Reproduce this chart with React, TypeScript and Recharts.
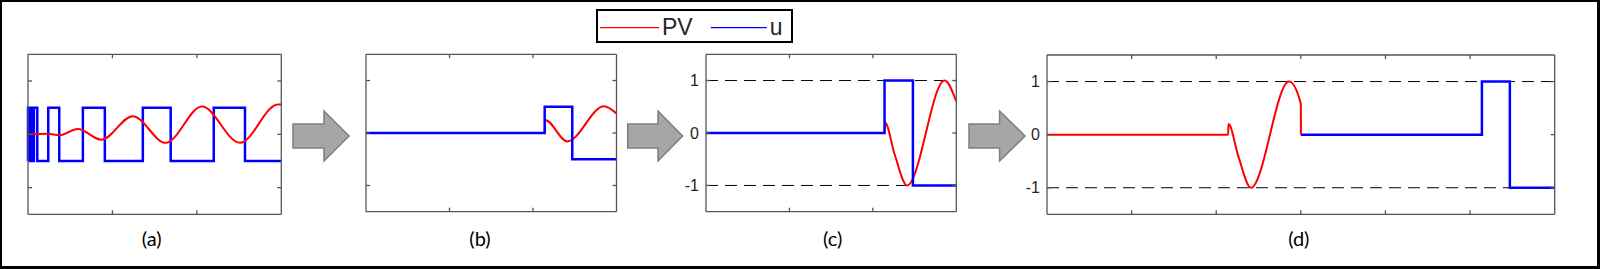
import React from "react";
import { Line, LineChart, ReferenceLine, XAxis, YAxis } from "recharts";

type Pt = [number, number];

// (a) relay excitation, u = ±0.5, PV slowly building up
const uA: Pt[] = [
  [0, -0.5], [0, 0.5], [0.02, -0.5], [0.04, 0.5], [0.06, -0.5], [0.07, 0.5],
  [0.11, -0.5], [0.24, 0.5], [0.37, -0.5], [0.65, 0.5], [0.91, -0.5],
  [1.36, 0.5], [1.69, -0.5], [2.2, 0.5], [2.57, -0.5], [3, -0.5],
];
const pvA: Pt[] = [
  [0, 0], [0.24, 0.01], [0.37, -0.02], [0.59, 0.1], [0.87, -0.1], [1.24, 0.34],
  [1.63, -0.16], [2.06, 0.52], [2.51, -0.16], [2.96, 0.56], [3, 0.56],
];

// (b) single pulse
const uB: Pt[] = [[0, 0], [2.14, 0.5], [2.47, -0.5], [3, -0.5]];
const pvB: Pt[] = [[0, 0], [2.14, 0], [2.145, 0.25], [2.41, -0.16], [2.85, 0.51], [3, 0.37]];

// (c) scaled pulse
const uC: Pt[] = [[0, 0], [2.14, 1], [2.48, -1], [3, -1]];
const pvC: Pt[] = [[0, 0], [2.14, 0], [2.145, 0.2], [2.26, -0.4], [2.41, -1], [2.86, 1], [3, 0.6]];

// (d) PV window followed by u window
const pvD: Pt[] = [[0, 0], [2.14, 0], [2.145, 0.2], [2.26, -0.4], [2.41, -1], [2.86, 1], [3, 0.58], [3.001, 0]];
const uD: Pt[] = [[3, 0], [5.14, 1], [5.47, -1], [6, -1]];

const yTicks = [-1, 0, 1];
const legendItems = [
  { name: "PV", color: "#ff0000" },
  { name: "u", color: "#0000ff" },
];

const RED = "#ff0000";
const BLUE = "#0000ff";
const AXIS = "#555555";

const rows = (pts: Pt[]) => pts.map(([t, v]) => ({ t, v }));
const noLabel = () => <g />;

interface PanelCfg {
  left: number;
  right: number;
  top: number;
  bottom: number;
  tMax: number;
  xTicks: number[];
  labels: boolean;
  redOnTop: boolean;
  pv: Pt[];
  u: Pt[];
  caption: string;
  capX: number;
}

const panels: PanelCfg[] = [
  { left: 27.7, right: 281, top: 54.3, bottom: 214.3, tMax: 3, xTicks: [1, 2], labels: false, redOnTop: true, pv: pvA, u: uA, caption: "(a)", capX: 151.7 },
  { left: 365.5, right: 616, top: 54.3, bottom: 211.7, tMax: 3, xTicks: [1, 2], labels: false, redOnTop: false, pv: pvB, u: uB, caption: "(b)", capX: 480 },
  { left: 705.7, right: 956, top: 54.3, bottom: 211.7, tMax: 3, xTicks: [1, 2], labels: true, redOnTop: false, pv: pvC, u: uC, caption: "(c)", capX: 832.7 },
  { left: 1047, right: 1554.7, top: 55, bottom: 214.3, tMax: 6, xTicks: [1, 2, 3, 4, 5], labels: true, redOnTop: true, pv: pvD, u: uD, caption: "(d)", capX: 1298.8 },
];

function Panel({ p }: { p: PanelCfg }) {
  const w = p.right - p.left + 50;
  const red = (
    <Line key="pv" data={rows(p.pv)} dataKey="v" xAxisId="b" yAxisId="l" type="monotone"
      stroke={RED} strokeWidth={2} dot={false} activeDot={false} isAnimationActive={false} />
  );
  const blue = (
    <Line key="u" data={rows(p.u)} dataKey="v" xAxisId="b" yAxisId="l" type="stepAfter"
      stroke={BLUE} strokeWidth={2.5} dot={false} activeDot={false} isAnimationActive={false} />
  );
  const box = { stroke: AXIS, strokeWidth: 1.3 };
  return (
    <div style={{ position: "absolute", left: p.left - 40, top: 0 }}>
      <LineChart
        width={w}
        height={269}
        margin={{ top: p.top, bottom: 269 - p.bottom, left: p.labels ? 10 : 40, right: 10 }}
      >
        <XAxis xAxisId="b" dataKey="t" type="number" orientation="bottom" mirror height={1} interval={0}
          domain={[0, p.tMax]} ticks={p.xTicks} tick={noLabel} tickSize={4} axisLine={box} tickLine={box} />
        <XAxis xAxisId="t" dataKey="t" type="number" orientation="top" mirror height={1} allowDataOverflow interval={0}
          domain={[0, p.tMax]} ticks={p.xTicks} tick={noLabel} tickSize={4} axisLine={box} tickLine={box} />
        <YAxis yAxisId="l" type="number" orientation="left" mirror width={1} interval={0}
          domain={[-1.5, 1.5]} ticks={yTicks} tick={noLabel} tickSize={4} axisLine={box} tickLine={box} />
        <YAxis yAxisId="r" type="number" orientation="right" mirror width={1} allowDataOverflow interval={0}
          domain={[-1.5, 1.5]} ticks={yTicks} tick={noLabel} tickSize={4} axisLine={box} tickLine={box} />
        {p.labels && (
          <YAxis yAxisId="lab" type="number" orientation="left" width={30} allowDataOverflow interval={0}
            domain={[-1.5, 1.5]} ticks={yTicks} tickSize={0} tickMargin={7} axisLine={false} tickLine={false}
            tick={{ fill: "#262626", fontSize: 16, fontFamily: "Liberation Sans, Arial, sans-serif" }} />
        )}
        {p.labels &&
          [-1, 1].map((y) => (
            <ReferenceLine key={y} xAxisId="b" yAxisId="l" y={y} stroke="#000" strokeWidth={1} strokeDasharray="12 7" />
          ))}
        {p.redOnTop ? [blue, red] : [red, blue]}
      </LineChart>
    </div>
  );
}

const arrows = [
  [293, 324, 349],
  [627.7, 658, 682.7],
  [969, 999.6, 1025],
];

export default function App() {
  return (
    <div style={{ position: "absolute", left: 0, top: 0, width: 1600, height: 269, background: "#fff", overflow: "hidden" }}>
      {panels.map((p) => (
        <Panel key={p.caption} p={p} />
      ))}
      <svg width={1600} height={269} style={{ position: "absolute", left: 0, top: 0, pointerEvents: "none" }}>
        {arrows.map(([x0, xh, xt], i) => (
          <polygon key={i}
            points={`${x0},124 ${xh},124 ${xh},111 ${xt},136 ${xh},161 ${xh},148 ${x0},148`}
            fill="#a6a6a6" stroke="#7f7f7f" strokeWidth={1.5} />
        ))}
        {panels.map((p) => (
          <text key={p.caption} x={p.capX} y={238} textAnchor="middle" dominantBaseline="central"
            fontFamily="Lato, 'Open Sans', sans-serif" fontSize={20} fill="#000">
            {p.caption}
          </text>
        ))}
        <rect x={597} y={10} width={195} height={32} fill="#fff" stroke="#000" strokeWidth={2} />
        {legendItems.map((it, i) => {
          const x = i === 0 ? 600 : 710.7;
          const lw = i === 0 ? 59 : 56;
          return (
            <g key={it.name}>
              <line x1={x} x2={x + lw} y1={27.7} y2={27.7} stroke={it.color} strokeWidth={1.2} />
              <text x={x + lw + 3} y={35} fontFamily="Liberation Sans, Arial, sans-serif" fontSize={23} fill="#262626">
                {it.name}
              </text>
            </g>
          );
        })}
      </svg>
      <div style={{ position: "absolute", left: 0, top: 0, width: 1600, height: 269, boxSizing: "border-box",
        borderStyle: "solid", borderColor: "#000", borderWidth: "2px 3px 3px 2px" }} />
    </div>
  );
}
